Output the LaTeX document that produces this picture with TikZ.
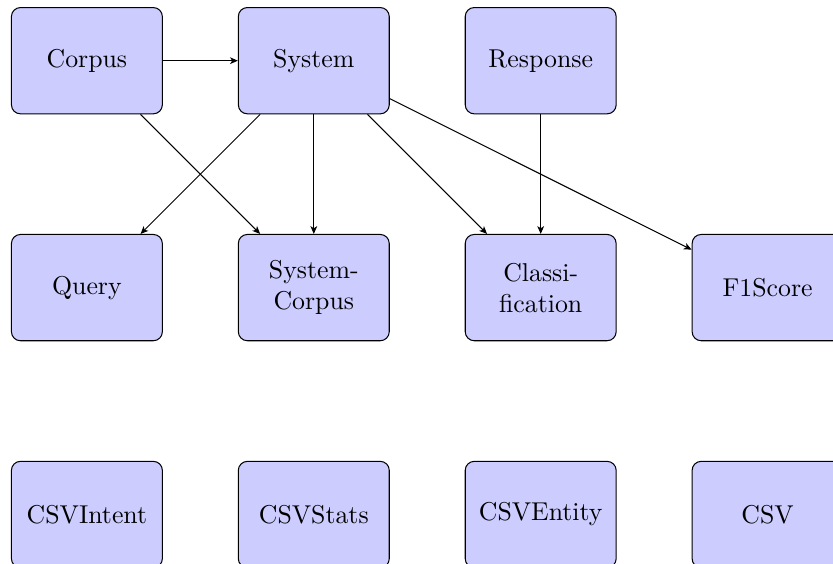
\documentclass[tikz,border=0pt]{standalone}
\usetikzlibrary{arrows.meta}
\begin{document}
\begin{tikzpicture}[x=0.3876pt,y=-0.3876pt,
  box/.style={draw=black, fill=blue!20, rounded corners=3.5pt,
    minimum width=58.5pt, minimum height=41.2pt, inner sep=2pt, align=center},
  conn/.style={-{Stealth[length=3pt,width=2.6pt,inset=0.8pt]}, line width=0.4pt}]
\useasboundingbox (0,0) rectangle (833,564);
\node[box] (corpus)   at (86.9,60.7)  {Corpus};
\node[box] (system)   at (313.8,60.7) {System};
\node[box] (response) at (540.7,60.7) {Response};
\node[box] (query)    at (86.9,287.6) {Query};
\node[box] (syscorp)  at (313.8,287.6) {System-\\Corpus};
\node[box] (classif)  at (540.7,287.6) {Classi-\\fication};
\node[box] (f1)       at (767.6,287.6) {F1Score};
\node[box] (csvint)   at (86.9,514.5) {CSVIntent};
\node[box] (csvstats) at (313.8,514.5) {CSVStats};
\node[box] (csvent)   at (540.7,514.5) {CSVEntity};
\node[box] (csv)      at (767.6,514.5) {CSV};
\draw[conn] (corpus) -- (system);
\draw[conn] (corpus) -- (syscorp);
\draw[conn] (system) -- (query);
\draw[conn] (system) -- (syscorp);
\draw[conn] (system) -- (classif);
\draw[conn] (system) -- (f1);
\draw[conn] (response) -- (classif);
\end{tikzpicture}
\end{document}
